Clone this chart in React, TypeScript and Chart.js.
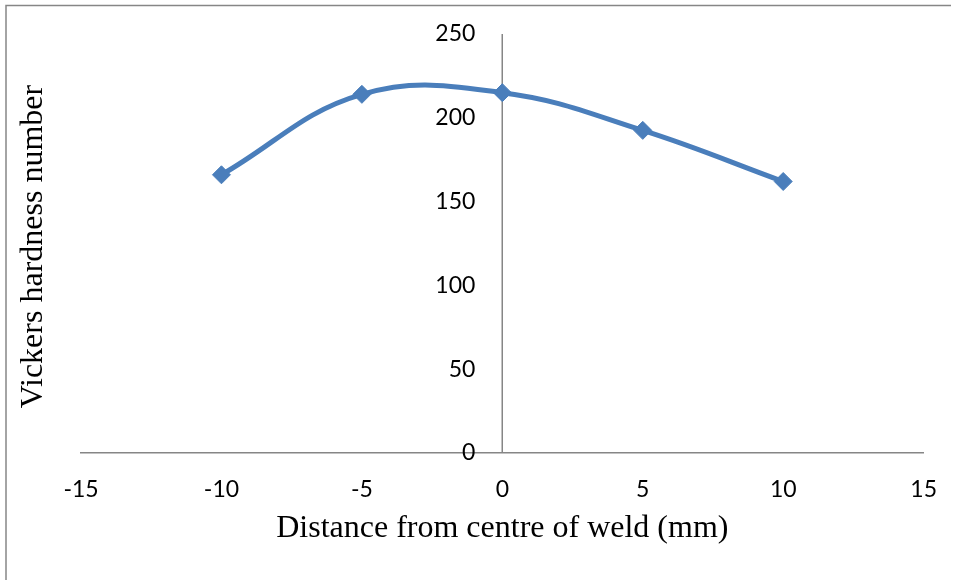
import React, { useEffect, useRef } from "react";
import { Chart, registerables } from "chart.js";

Chart.register(...registerables);

const distances = [-10, -5, 0, 5, 10];
const hardness = [166, 214, 215, 192.5, 162];
const xTitle = "Distance from centre of weld (mm)";
const yTitle = "Vickers hardness number";
const xRange = [-15, 15];
const yRange = [0, 250];
const xStep = 5;
const yStep = 50;
const yAxisCross = 0;

const lineColor = "#4A7EBB";
const axisColor = "#868686";
const tickFont = { family: "Lato", size: 23 };
const titleFontFamily = "'Liberation Serif', 'Times New Roman', serif";
const yLabelGap = 27;

const framePlugin = {
  id: "frameAndYTitle",
  beforeDraw(chart: any) {
    const { ctx, chartArea, scales } = chart;
    ctx.save();
    ctx.strokeStyle = axisColor;
    ctx.lineWidth = 1.5;
    ctx.beginPath();
    ctx.moveTo(6, 580);
    ctx.lineTo(6, 5.5);
    ctx.lineTo(951, 5.5);
    ctx.stroke();
    // vertical value axis crossing at x = 0
    const x0 = Math.round(scales.x.getPixelForValue(yAxisCross)) + 0.25;
    ctx.beginPath();
    ctx.moveTo(x0, chartArea.top);
    ctx.lineTo(x0, chartArea.bottom);
    ctx.stroke();
    ctx.restore();
  },
  afterDraw(chart: any) {
    const { ctx, chartArea } = chart;
    ctx.save();
    ctx.translate(34, (chartArea.top + chartArea.bottom) / 2 + 3);
    ctx.rotate(-Math.PI / 2);
    ctx.font = `32px ${titleFontFamily}`;
    ctx.fillStyle = "#000";
    ctx.textAlign = "center";
    ctx.textBaseline = "middle";
    ctx.fillText(yTitle, 0, 0);
    ctx.restore();
  },
};

export default function App() {
  const canvasRef = useRef<HTMLCanvasElement | null>(null);

  useEffect(() => {
    const canvas = canvasRef.current;
    if (!canvas) return;
    const pxPerUnit = (960 - 81 - 35) / (xRange[1] - xRange[0]);
    const chart = new Chart(canvas, {
      type: "scatter",
      data: {
        datasets: [
          {
            data: distances.map((x, i) => ({ x, y: hardness[i] })),
            showLine: true,
            borderColor: lineColor,
            backgroundColor: lineColor,
            borderWidth: 5,
            tension: 0.4,
            pointStyle: "rectRot",
            pointRadius: 9,
            pointBorderWidth: 1,
            pointBackgroundColor: lineColor,
            pointBorderColor: lineColor,
          },
        ],
      },
      options: {
        responsive: false,
        animation: false,
        layout: { padding: { left: 81, right: 35, top: 34, bottom: 0 } },
        plugins: {
          legend: { display: false },
          tooltip: { enabled: false },
        },
        scales: {
          x: {
            type: "linear",
            position: "bottom",
            min: xRange[0],
            max: xRange[1],
            grid: { display: false, drawTicks: false },
            border: { display: true, color: axisColor, width: 1.5 },
            ticks: {
              stepSize: xStep,
              padding: 23,
              color: "#000",
              font: tickFont,
              maxRotation: 0,
              autoSkip: false,
            },
            title: {
              display: true,
              text: xTitle,
              color: "#000",
              font: { family: titleFontFamily, size: 32 },
              padding: { top: 0, bottom: 32 },
            },
            afterFit(scale: any) {
              scale.height = 127;
            },
          },
          y: {
            type: "linear",
            position: { x: yAxisCross - yLabelGap / pxPerUnit } as any,
            min: yRange[0],
            max: yRange[1],
            grid: { display: false, drawTicks: false },
            border: { display: false },
            ticks: {
              stepSize: yStep,
              padding: 0,
              color: "#000",
              font: tickFont,
            },
          },
        },
      },
      plugins: [framePlugin],
    });
    return () => chart.destroy();
  }, []);

  return (
    <div style={{ position: "fixed", left: 0, top: 0, width: 960, height: 580, background: "#fff" }}>
      <canvas ref={canvasRef} width={960} height={580} style={{ width: 960, height: 580, display: "block" }} />
    </div>
  );
}
